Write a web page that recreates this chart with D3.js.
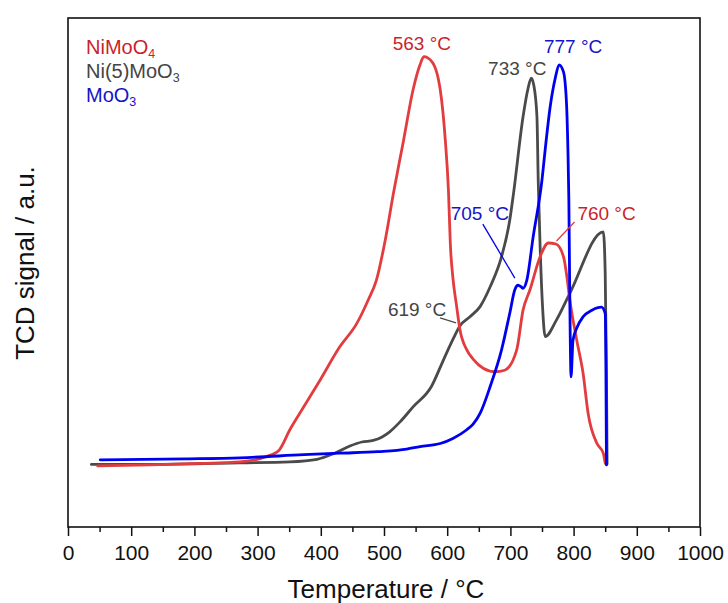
<!DOCTYPE html>
<html lang="en">
<head>
<meta charset="utf-8">
<title>TPR profiles</title>
<script src="https://d3js.org/d3.v7.min.js"></script>
<style>
  body { margin: 0; background: #fff; }
  text { font-family: "Liberation Sans", Arial, sans-serif; }
</style>
</head>
<body>
<svg width="728" height="603"></svg>
<script>
// temperature (°C) and TCD signal (a.u.)
const niMoO4T = [47, 130, 209, 272, 313, 334, 351, 375, 399, 430, 457, 475, 488, 502, 515, 531, 546, 557, 563, 576, 589, 597, 602, 605, 609, 615, 620, 631, 641, 657, 676, 691, 710, 720, 731, 747, 760, 772, 784, 789, 794, 805, 815, 823, 837, 847, 850];
const niMoO4Y = [12.0, 12.2, 12.5, 12.8, 13.8, 15.1, 19.1, 24.0, 28.9, 35.4, 40.0, 44.6, 48.5, 56.4, 65.6, 76.0, 85.9, 90.8, 92.4, 91.4, 85.9, 76.0, 66.0, 55.5, 49.0, 43.3, 38.9, 34.8, 33.0, 31.2, 30.5, 30.8, 34.8, 42.6, 46.6, 53.1, 55.8, 55.6, 53.1, 49.5, 44.6, 36.7, 30.2, 22.3, 16.4, 14.5, 12.5];

const ni5MoO3T = [37, 130, 272, 351, 394, 422, 446, 465, 483, 497, 509, 525, 546, 575, 594, 610, 620, 636, 652, 668, 686, 699, 705, 720, 728, 733, 737, 742, 744, 747, 751, 755, 773, 794, 847, 850, 852, 853];
const ni5MoO3Y = [12.3, 12.3, 12.6, 12.8, 13.3, 14.5, 15.9, 16.7, 17.0, 17.7, 18.7, 20.6, 23.6, 27.6, 32.8, 37.1, 39.5, 41.3, 43.3, 47.2, 53.1, 60.3, 65.6, 80.6, 86.2, 88.2, 86.8, 80.6, 68.2, 55.1, 43.0, 37.4, 40.7, 45.9, 58.0, 50.0, 30.0, 12.4];

const moO3T = [51, 187, 272, 373, 430, 490, 536, 557, 589, 609, 631, 641, 652, 668, 686, 699, 707, 712, 717, 720, 726, 736, 750, 755, 763, 771, 777, 784, 789, 791, 792.5, 794, 796, 799, 805, 815, 829, 844, 850, 851, 852];
const moO3Y = [13.2, 13.4, 13.6, 14.2, 14.5, 14.8, 15.3, 15.8, 16.4, 17.4, 19.1, 20.2, 22.3, 27.6, 34.8, 42.0, 46.6, 47.5, 47.2, 46.9, 48.5, 57.0, 68.2, 74.1, 82.6, 88.2, 90.8, 89.4, 82.6, 74.1, 64.2, 44.6, 29.5, 36.7, 39.1, 41.3, 42.6, 43.2, 42.0, 34.0, 12.2];

const seriesNames = ["NiMoO4", "Ni(5)MoO3", "MoO3"];
const peakText = ["563 °C", "733 °C", "777 °C", "705 °C", "760 °C", "619 °C"];
const xTicks = d3.range(0, 1001, 100);

const svg = d3.select("svg");
const mLeft = 68, mRight = 700, mTop = 18, mBottom = 527;

const x = d3.scaleLinear().domain([0, 1000]).range([mLeft, mRight]);
const y = d3.scaleLinear().domain([0, 100]).range([mBottom, mTop]);

const lineColor = ["#e33c3f", "#4a4a4a", "#0000f0"];
const textColor = ["#cc1f2a", "#444444", "#1414c8"];

const line = d3.line().x(d => x(d[0])).y(d => y(d[1])).curve(d3.curveMonotoneX);

const series = [
  d3.zip(niMoO4T, niMoO4Y),
  d3.zip(ni5MoO3T, ni5MoO3Y),
  d3.zip(moO3T, moO3Y)
];

// draw gray, red, then blue on top
[1, 0, 2].forEach(i => {
  svg.append("path")
    .datum(series[i])
    .attr("d", line)
    .attr("fill", "none")
    .attr("stroke", lineColor[i])
    .attr("stroke-width", 2.8)
    .attr("stroke-linejoin", "round")
    .attr("stroke-linecap", "round");
});

// frame
svg.append("rect")
  .attr("x", mLeft).attr("y", mTop)
  .attr("width", mRight - mLeft).attr("height", mBottom - mTop)
  .attr("fill", "none").attr("stroke", "#111").attr("stroke-width", 1.6);

// x axis
const gx = svg.append("g").attr("transform", `translate(0,${mBottom})`);
gx.call(d3.axisBottom(x).tickValues(xTicks).tickFormat(d3.format("d")).tickSize(9).tickPadding(9));
gx.append("g").call(d3.axisBottom(x).tickValues(d3.range(50, 1000, 100)).tickSize(5).tickFormat(""));
gx.selectAll(".domain").remove();
gx.selectAll("line").attr("stroke", "#111").attr("stroke-width", 1.5);
gx.selectAll("text")
  .attr("font-family", "Liberation Sans, Arial, sans-serif")
  .attr("font-size", 21).attr("fill", "#111");

svg.append("text")
  .attr("x", 386).attr("y", 598)
  .attr("text-anchor", "middle")
  .attr("font-size", 26).attr("fill", "#111")
  .text("Temperature / °C");

svg.append("text")
  .attr("transform", "translate(34,263) rotate(-90)")
  .attr("text-anchor", "middle")
  .attr("font-size", 26).attr("fill", "#111")
  .text("TCD signal / a.u.");

// legend
const legendSub = ["4", "3", "3"];
const legendMain = ["NiMoO", "Ni(5)MoO", "MoO"];
legendMain.forEach((t, i) => {
  const tx = svg.append("text")
    .attr("x", 86).attr("y", 54 + i * 24)
    .attr("font-size", 20).attr("fill", textColor[i]);
  tx.append("tspan").text(t);
  tx.append("tspan").attr("dy", 3.5).attr("font-size", 12.5).text(legendSub[i]);
});

// main peak labels, offset (px) from the peak top
const peakAt = [[563, 92.4], [733, 88.2], [777, 90.8]];
const peakOffset = [[-2, -7], [-14, -3], [14, -12]];
peakAt.forEach((p, i) => {
  svg.append("text")
    .attr("x", x(p[0]) + peakOffset[i][0]).attr("y", y(p[1]) + peakOffset[i][1])
    .attr("text-anchor", "middle")
    .attr("font-size", 19).attr("fill", textColor[i])
    .text(peakText[i]);
});

// shoulder labels with leader lines
const leaderEnd = [[707, 48.9], [773, 56.2], [614, 40.1]];
const leaderColor = [2, 0, 1];
const labelShift = [[-35, -58, -32, -54], [50, -21, 18, -19], [-39, -7, -16, -5]]; // text dx, dy, line-start dx, dy
leaderEnd.forEach((p, i) => {
  const ex = x(p[0]), ey = y(p[1]);
  const c = leaderColor[i];
  svg.append("line")
    .attr("x1", ex + labelShift[i][2]).attr("y1", ey + labelShift[i][3])
    .attr("x2", ex).attr("y2", ey)
    .attr("stroke", lineColor[c]).attr("stroke-width", 1.3);
  svg.append("text")
    .attr("x", ex + labelShift[i][0]).attr("y", ey + labelShift[i][1])
    .attr("text-anchor", "middle")
    .attr("font-size", 19).attr("fill", textColor[c])
    .text(peakText[i + 3]);
});
</script>
</body>
</html>
